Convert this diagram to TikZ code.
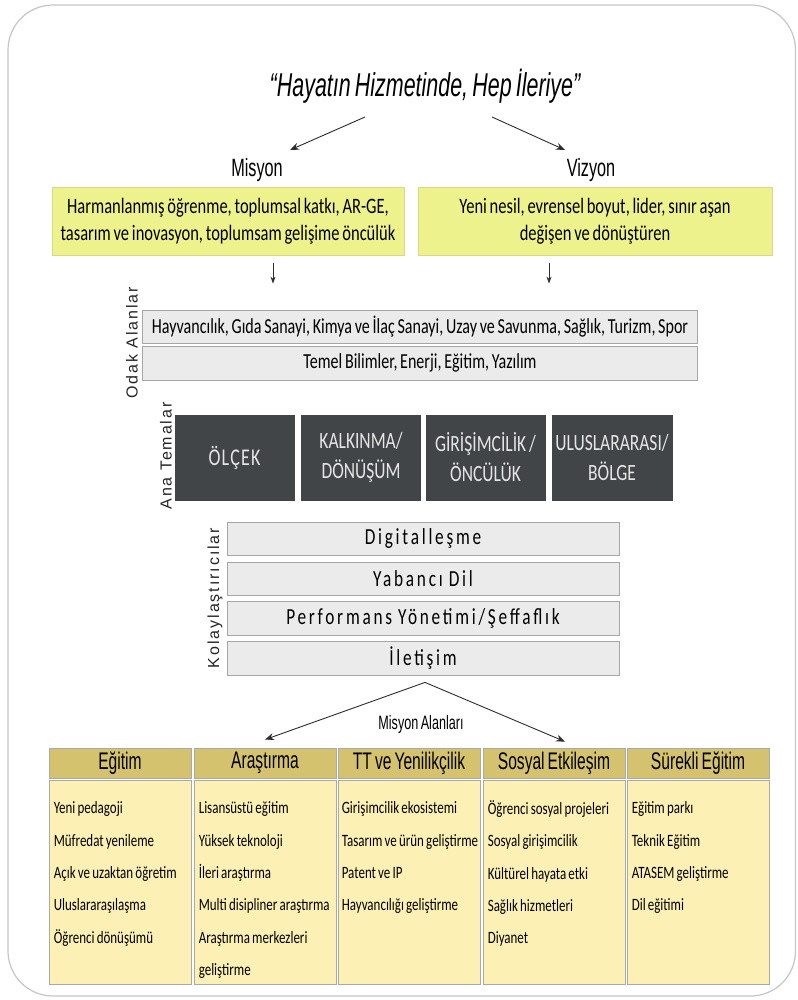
\documentclass[tikz,border=0pt]{standalone}
\usepackage{fontspec}
\setmainfont{Carlito}[FakeStretch=0.75, WordSpace=0.75]
\newfontfamily\narrowfont[FakeStretch=0.65, WordSpace=0.7]{Liberation Sans}
\newfontfamily\sidefont[LetterSpace=12]{Liberation Sans}
\newfontfamily\spacedfont[LetterSpace=12, FakeStretch=0.75, WordSpace=0.9]{Carlito}
\usetikzlibrary{calc,arrows.meta}
\definecolor{framegray}{HTML}{C6C6C6}
\definecolor{limefill}{HTML}{EEF28C}
\definecolor{limeedge}{HTML}{D6DA84}
\definecolor{barfill}{HTML}{EBEBEB}
\definecolor{baredge}{HTML}{A6A6A6}
\definecolor{themefill}{HTML}{414548}
\definecolor{themetext}{HTML}{E6E6E6}
\definecolor{headfill}{HTML}{D4C26E}
\definecolor{bodyfill}{HTML}{FDF0B4}
\definecolor{tableedge}{HTML}{A9A9A9}
\definecolor{arrowgray}{HTML}{2E2E2E}
\tikzset{
	arr/.style={-{Stealth[length=9pt,width=7pt]}, line width=0.9pt, color=arrowgray},
	downarr/.style={-{Stealth[length=7pt,width=5pt]}, line width=0.8pt, color=arrowgray},
	limebox/.style={draw=limeedge, fill=limefill, line width=0.8pt, minimum height=68pt, inner sep=0pt, align=center, font=\fontsize{22}{27}\selectfont},
	odakbar/.style={draw=baredge, fill=barfill, line width=0.8pt, minimum width=555pt, inner sep=0pt, font=\fontsize{21.4}{24}\selectfont},
	themebox/.style={draw=themefill, fill=themefill, minimum width=119pt, minimum height=85pt, inner sep=0pt, align=center, text=themetext, font=\fontsize{23.3}{30}\selectfont},
	kolaybar/.style={draw=baredge, fill=barfill, line width=0.8pt, minimum width=392pt, inner sep=0pt, font=\spacedfont\fontsize{23}{25}\selectfont},
	sidelabel/.style={rotate=90, inner sep=0pt, text=black!85, font=\sidefont\fontsize{16}{18}\selectfont},
	headcell/.style={draw=tableedge, fill=headfill, line width=0.8pt, minimum width=142pt, minimum height=30pt, inner sep=0pt, font=\narrowfont\fontsize{24}{26}\selectfont},
	bodycell/.style={draw=tableedge, fill=bodyfill, line width=0.8pt, minimum width=142pt, minimum height=204pt, inner sep=0pt},
	bodytext/.style={anchor=north west, inner sep=0pt, align=left, font=\fontsize{17.3}{32.3}\selectfont}
}
\begin{document}
\begin{tikzpicture}[x=1pt, y=-1pt]
		%%%%% START %%%%%
		\useasboundingbox (0, 0) rectangle (797, 1000);
		\draw[color=framegray, line width=1.2pt, fill=white, rounded corners=45pt] (8, 5) rectangle (795.5, 996);
		
		% motto, misyon, vizyon
		\node[font=\narrowfont\itshape\fontsize{33}{36}\selectfont] (motto) at (425, 86) {“Hayatın Hizmetinde, Hep İleriye”};
		\node[font=\narrowfont\fontsize{25}{28}\selectfont] (misyon) at (257, 170) {Misyon};
		\node[font=\narrowfont\fontsize{25}{28}\selectfont] (vizyon) at (591, 170) {Vizyon};
		\draw[arr] ($(motto.center)+(-60, 31)$) -- ($(misyon.center)+(33, -20)$);
		\draw[arr] ($(motto.center)+(67, 31)$) -- ($(vizyon.center)+(-26, -20)$);
		
		\node[limebox, minimum width=352pt] (misyonbox) at (228, 221) {Harmanlanmış öğrenme, toplumsal katkı, AR-GE,\\tasarım ve inovasyon, toplumsam gelişime öncülük};
		\node[limebox, minimum width=354pt] (vizyonbox) at (595, 221) {Yeni nesil, evrensel boyut, lider, sınır aşan\\değişen ve dönüştüren};
		
		% odak alanlar
		\node[odakbar, minimum height=33pt] (odak1) at (420, 326.5) {Hayvancılık, Gıda Sanayi, Kimya ve İlaç Sanayi, Uzay ve Savunma, Sağlık, Turizm, Spor};
		\node[odakbar, minimum height=34pt] (odak2) at (420, 363) {Temel Bilimler, Enerji, Eğitim, Yazılım};
		\node[sidelabel] (odaklabel) at (132, 343) {Odak Alanlar};
		\draw[downarr] ($(misyonbox.south)+(45, 8)$) -- ($(odak1.north -| misyonbox.south)+(45, -26)$);
		\draw[downarr] ($(vizyonbox.south)+(-46, 8)$) -- ($(odak1.north -| vizyonbox.south)+(-46, -26)$);
		
		% ana temalar
		\node[themebox, font=\addfontfeature{LetterSpace=5}\fontsize{24}{30}\selectfont] (tema1) at (234.5, 457.5) {ÖLÇEK};
		\node[themebox] (tema2) at (361, 457.5) {KALKINMA/\\DÖNÜŞÜM};
		\node[themebox] (tema3) at (485.5, 457.5) {GİRİŞİMCİLİK /\\ÖNCÜLÜK};
		\node[themebox, minimum width=120pt] (tema4) at (612, 457.5) {ULUSLARARASI/\\BÖLGE};
		\node[sidelabel] (temalabel) at (166, 456) {Ana Temalar};
		
		% kolaylastiricilar
		\node[kolaybar, minimum height=33pt] (kolay1) at (423, 538.5) {Digitalleşme};
		\node[kolaybar, minimum height=33pt] (kolay2) at (423, 578.5) {Yabancı Dil};
		\node[kolaybar, minimum height=34pt] (kolay3) at (423, 618) {Performans Yönetimi/Şeffaflık};
		\node[kolaybar, minimum height=34pt] (kolay4) at (423, 658) {İletişim};
		\node[sidelabel] (kolaylabel) at (215, 598) {Kolaylaştırıcılar};
		
		% misyon alanlari
		\node[font=\narrowfont\fontsize{19.4}{21}\selectfont] (alanlar) at (421, 724) {Misyon Alanları};
		
		\node[headcell] (head1) at (120, 763) {Eğitim};
		\node[headcell] (head2) at (265, 763) {Araştırma};
		\node[headcell] (head3) at (409, 763) {TT ve Yenilikçilik};
		\node[headcell] (head4) at (554, 763) {Sosyal Etkileşim};
		\node[headcell] (head5) at (698, 763) {Sürekli Eğitim};
		
		\draw[arr] ($(kolay4.south)+(2, 7)$) -- ($(head2.north)+(0, -8)$);
		\draw[arr] ($(kolay4.south)+(2, 7)$) -- ($(head4.north)+(11, -6)$);
		
		\node[bodycell] (body1) at (120, 882) {};
		\node[bodycell] (body2) at (265, 882) {};
		\node[bodycell] (body3) at (409, 882) {};
		\node[bodycell] (body4) at (554, 882) {};
		\node[bodycell] (body5) at (698, 882) {};
		
		\node[bodytext] (list1) at ($(body1.north west)+(5, 21)$) {\rule{0pt}{13pt}Yeni pedagoji\\Müfredat yenileme\\Açık ve uzaktan öğretim\\Uluslararaşılaşma\\Öğrenci dönüşümü};
		\node[bodytext] (list2) at ($(body2.north west)+(5, 21)$) {\rule{0pt}{13pt}Lisansüstü eğitim\\Yüksek teknoloji\\İleri araştırma\\Multi disipliner araştırma\\Araştırma merkezleri\\geliştirme};
		\node[bodytext] (list3) at ($(body3.north west)+(4, 21)$) {\rule{0pt}{13pt}Girişimcilik ekosistemi\\Tasarım ve ürün geliştirme\\Patent ve IP\\Hayvancılığı geliştirme};
		\node[bodytext] (list4) at ($(body4.north west)+(5, 21)$) {\rule{0pt}{13pt}Öğrenci sosyal projeleri\\Sosyal girişimcilik\\Kültürel hayata etki\\Sağlık hizmetleri\\Diyanet};
		\node[bodytext] (list5) at ($(body5.north west)+(5, 21)$) {\rule{0pt}{13pt}Eğitim parkı\\Teknik Eğitim\\ATASEM geliştirme\\Dil eğitimi};
		%%%%% END %%%%%
	\end{tikzpicture}
\end{document}
